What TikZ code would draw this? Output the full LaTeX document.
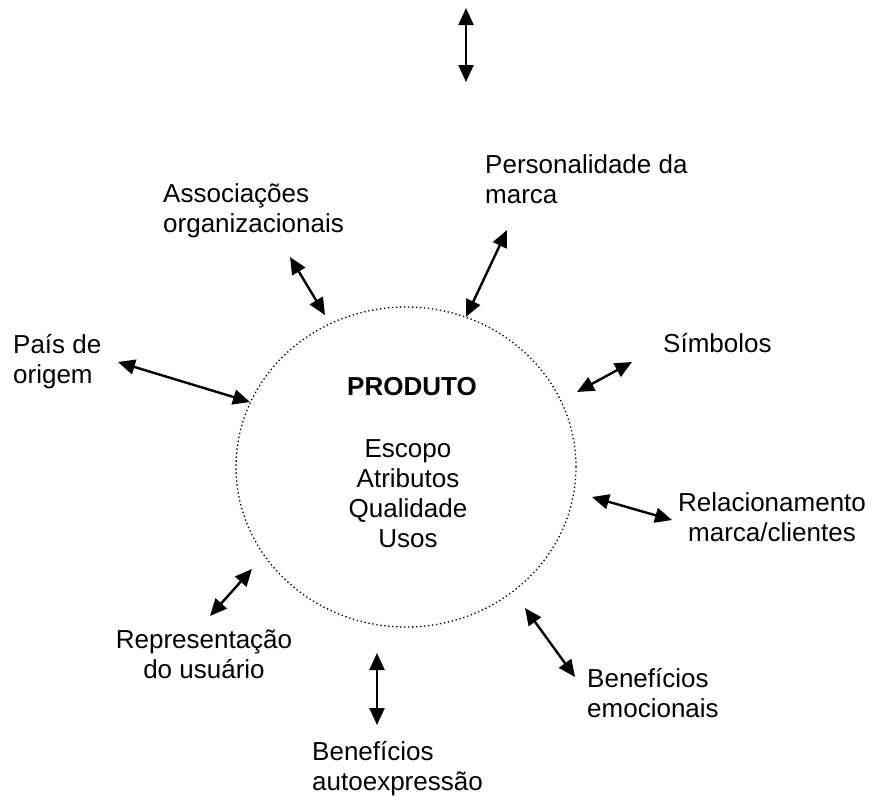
\documentclass[tikz,border=0pt]{standalone}
\usepackage{fontspec}
\setmainfont{Liberation Sans}
\usetikzlibrary{arrows.meta,shapes.geometric}

\begin{document}
\begin{tikzpicture}[x=1pt,y=-1pt,>={Triangle[length=17pt,width=15pt]},
	lbl/.style={inner sep=0pt,font=\fontsize{26}{29.7}\selectfont,align=left,anchor=base west},
	lblc/.style={lbl,align=center,anchor=base},
	seta/.style={<->,line width=2.4pt}]
\useasboundingbox (0,0) rectangle (872,796);
% produto
\node[draw,ellipse,line width=1.3pt,dash pattern=on 1.3pt off 2.7pt,
	minimum width=340pt,minimum height=320pt,inner sep=0pt] (produto) at (406,467) {};
\node[lblc,font=\fontsize{26}{29.7}\selectfont\bfseries] (titulo) at (412,395) {PRODUTO};
\node[lblc] (itens) at (408,547) {Escopo\\Atributos\\Qualidade\\Usos};
% labels (base = last line)
\node[lbl] (assoc) at (163,232) {Associações\\organizacionais};
\node[lbl] (pers) at (485,203) {Personalidade da\\marca};
\node[lbl] (simb) at (663,352) {Símbolos};
\node[lbl] (pais) at (13,383) {País de\\origem};
\node[lblc] (relac) at (772,541) {Relacionamento\\marca/clientes};
\node[lbl] (emoc) at (587,717) {Benefícios\\emocionais};
\node[lbl] (autoexp) at (312,790) {Benefícios\\autoexpressão};
\node[lblc] (repres) at (204,678) {Representação\\do usuário};
% arrow ends
\coordinate (topA) at (466,8);      \coordinate (topB) at (466,82);
\coordinate (assocA) at (290,257);  \coordinate (assocB) at (325,315);
\coordinate (persA) at (507,230);   \coordinate (persB) at (466,317);
\coordinate (simbA) at (632,362);   \coordinate (simbB) at (577,392);
\coordinate (paisA) at (118,362);   \coordinate (paisB) at (250,402);
\coordinate (relacA) at (672,520);  \coordinate (relacB) at (592,497);
\coordinate (emocA) at (575,677);   \coordinate (emocB) at (525,608);
\coordinate (autoA) at (377,725);   \coordinate (autoB) at (377,653);
\coordinate (repA) at (210,616);    \coordinate (repB) at (252,569);
\draw[seta] (topA) -- (topB);
\draw[seta] (assocA) -- (assocB);
\draw[seta] (persA) -- (persB);
\draw[seta] (simbA) -- (simbB);
\draw[seta] (paisA) -- (paisB);
\draw[seta] (relacA) -- (relacB);
\draw[seta] (emocA) -- (emocB);
\draw[seta] (autoA) -- (autoB);
\draw[seta] (repA) -- (repB);
\end{tikzpicture}
\end{document}
